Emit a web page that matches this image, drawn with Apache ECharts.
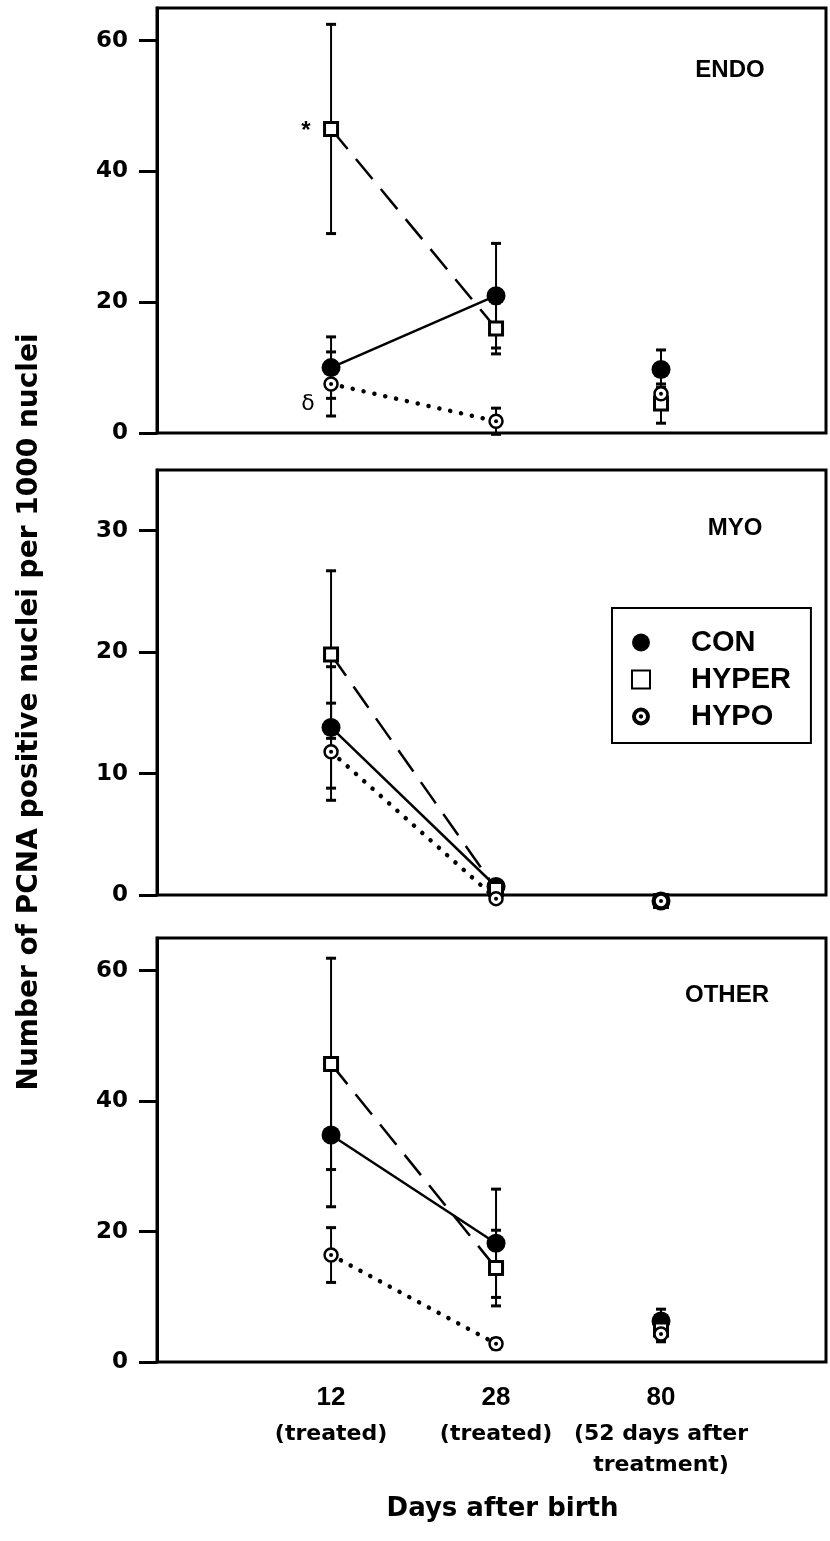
<!DOCTYPE html>
<html>
<head>
<meta charset="utf-8">
<script src="https://cdn.jsdelivr.net/npm/echarts@6/dist/echarts.min.js"></script>
<style>
html, body { margin: 0; padding: 0; background: #fff; }
#chart { width: 830px; height: 1541px; }
</style>
</head>
<body>
<div id="chart"></div>
<script>
// x categories (days after birth)
var days = ['12', '28', '80'];
var dayNotes = ['(treated)', '(treated)', '(52 days after\ntreatment)'];
var panelNames = ['ENDO', 'MYO', 'OTHER'];
var yMax = [65, 35, 65];
var yTicks = [[0, 20, 40, 60], [0, 10, 20, 30], [0, 20, 40, 60]];

// ENDO
var conEndo = [10, 21, 9.7];
var conEndoSd = [4.7, 8, 3];
var hyperEndo = [46.5, 16, 4.5];
var hyperEndoSd = [16, 3.9, 3];
var hypoEndo = [7.5, 1.8, 6];
var hypoEndoSd = [4.9, 2, 1];

// MYO
var conMyo = [13.8, 0.7, -0.5];
var conMyoSd = [5, 0.3, 0];
var hyperMyo = [19.8, 0.5, -0.5];
var hyperMyoSd = [6.9, 0.3, 0];
var hypoMyo = [11.8, -0.3, -0.5];
var hypoMyoSd = [4, 0.3, 0];

// OTHER
var conOther = [34.8, 18.2, 6.3];
var conOtherSd = [11, 8.3, 1.8];
var hyperOther = [45.7, 14.4, 5];
var hyperOtherSd = [16.2, 5.8, 1.5];
var hypoOther = [16.4, 2.8, 4.3];
var hypoOtherSd = [4.2, 0.8, 1.2];

var panelData = [
    { con: conEndo, conSd: conEndoSd, hyper: hyperEndo, hyperSd: hyperEndoSd, hypo: hypoEndo, hypoSd: hypoEndoSd },
    { con: conMyo, conSd: conMyoSd, hyper: hyperMyo, hyperSd: hyperMyoSd, hypo: hypoMyo, hypoSd: hypoMyoSd },
    { con: conOther, conSd: conOtherSd, hyper: hyperOther, hyperSd: hyperOtherSd, hypo: hypoOther, hypoSd: hypoOtherSd }
];

var FONT = 'Liberation Sans';
var WIDE = 'DejaVu Sans';
var ringDot = 'path://M50 0 A50 50 0 1 1 50 100 A50 50 0 1 1 50 0 Z M50 22 A28 28 0 1 0 50 78 A28 28 0 1 0 50 22 Z M50 38 A12 12 0 1 1 50 62 A12 12 0 1 1 50 38 Z';

var tops = [8, 470, 938];
var heights = [425, 425, 424];

var grid = [], xAxis = [], yAxis = [], series = [];

function pts(arr, from, to) {
    var out = [];
    for (var i = from; i <= to; i++) out.push([i, arr[i]]);
    return out;
}

function errData(vals, sds) {
    var out = [];
    for (var i = 0; i < vals.length; i++) {
        if (sds[i] > 0) out.push([i, vals[i] - sds[i], vals[i] + sds[i]]);
    }
    return out;
}

for (var p = 0; p < 3; p++) {
    var d = panelData[p];
    grid.push({
        left: 157, top: tops[p], width: 669, height: heights[p],
        show: true, borderColor: '#000', borderWidth: 3, backgroundColor: 'transparent'
    });
    var last = p === 2;
    xAxis.push({
        type: 'value', gridIndex: p, min: -1.055, max: 3.0,
        axisLine: { show: false, onZero: false },
        axisTick: { show: false },
        splitLine: { show: false },
        axisLabel: {
            show: last,
            customValues: [0, 1, 2],
            margin: 15,
            formatter: function (v) {
                var i = Math.round(v);
                var note = dayNotes[i].split('\n').map(function (s) { return '{b|' + s + '}'; }).join('\n');
                return '{a|' + days[i] + '}\n' + note;
            },
            rich: {
                a: { fontFamily: FONT, fontWeight: 'bold', fontSize: 26, lineHeight: 42, color: '#000' },
                b: { fontFamily: WIDE, fontWeight: 'bold', fontSize: 22, lineHeight: 31, color: '#000' }
            }
        },
        name: last ? 'Days after birth' : '',
        nameLocation: 'middle',
        nameGap: 134,
        nameTextStyle: { fontFamily: WIDE, fontWeight: 'bold', fontSize: 26, color: '#000', padding: [0, 0, 0, 22] }
    });
    yAxis.push({
        type: 'value', gridIndex: p, min: 0, max: yMax[p],
        axisLine: { show: true, onZero: false, lineStyle: { color: '#000', width: 3 } },
        axisTick: { show: true, customValues: yTicks[p], length: 18, lineStyle: { color: '#000', width: 3 } },
        splitLine: { show: false },
        axisLabel: {
            customValues: yTicks[p], margin: 29,
            fontFamily: WIDE, fontWeight: 'bold', fontSize: 23, color: '#000'
        }
    });

    // error bars
    var errs = errData(d.con, d.conSd).concat(errData(d.hyper, d.hyperSd), errData(d.hypo, d.hypoSd));
    series.push({
        type: 'custom', xAxisIndex: p, yAxisIndex: p, z: 1, clip: false,
        data: errs,
        encode: { x: 0, y: [1, 2] },
        renderItem: function (params, api) {
            var lo = api.coord([api.value(0), api.value(1)]);
            var hi = api.coord([api.value(0), api.value(2)]);
            var w = 5;
            return {
                type: 'group',
                children: [
                    { type: 'line', shape: { x1: lo[0], y1: lo[1], x2: hi[0], y2: hi[1] }, style: { stroke: '#000', lineWidth: 2 } },
                    { type: 'line', shape: { x1: lo[0] - w, y1: lo[1], x2: lo[0] + w, y2: lo[1] }, style: { stroke: '#000', lineWidth: 3 } },
                    { type: 'line', shape: { x1: hi[0] - w, y1: hi[1], x2: hi[0] + w, y2: hi[1] }, style: { stroke: '#000', lineWidth: 3 } }
                ]
            };
        }
    });

    var groups = [
        { name: 'CON', vals: d.con, symbol: 'circle', size: 19,
          item: { color: '#000', opacity: 1 }, line: { color: '#000', width: 2.5, type: 'solid' } },
        { name: 'HYPER', vals: d.hyper, symbol: 'rect', size: 13,
          item: { color: '#fff', borderColor: '#000', borderWidth: 3, opacity: 1 }, line: { color: '#000', width: 2.5, type: [26, 13] } },
        { name: 'HYPO', vals: d.hypo, symbol: 'circle', size: 13,
          item: { color: '#fff', borderColor: '#000', borderWidth: 2.5, opacity: 1 }, line: { color: '#000', width: 4.5, type: [0.1, 11], cap: 'round' } }
    ];
    groups.forEach(function (g) {
        series.push({
            name: g.name, type: 'line', xAxisIndex: p, yAxisIndex: p, z: 3, clip: false,
            data: pts(g.vals, 0, 1),
            symbol: g.symbol, symbolSize: g.size,
            itemStyle: g.item, lineStyle: g.line
        });
        series.push({
            name: g.name, type: 'scatter', xAxisIndex: p, yAxisIndex: p, z: 3, clip: false,
            data: pts(g.vals, 2, 2),
            symbol: g.symbol, symbolSize: g.size,
            itemStyle: g.item
        });
    });
    // centre dot of HYPO marker
    series.push({
        name: 'HYPO', type: 'scatter', xAxisIndex: p, yAxisIndex: p, z: 4, clip: false,
        data: pts(d.hypo, 0, 2), symbol: 'circle', symbolSize: 4,
        itemStyle: { color: '#000', opacity: 1 }
    });
}

var myChart = echarts.init(document.getElementById('chart'));
myChart.setOption({
    backgroundColor: '#fff',
    animation: false,
    grid: grid,
    xAxis: xAxis,
    yAxis: yAxis,
    legend: {
        left: 612, top: 608,
        orient: 'vertical',
        padding: [19, 20, 11, 19],
        itemGap: 6,
        itemWidth: 18, itemHeight: 18,
        borderColor: '#000', borderWidth: 2,
        backgroundColor: '#fff',
        selectedMode: false,
        textStyle: { fontFamily: FONT, fontWeight: 'bold', fontSize: 29, color: '#000', lineHeight: 31, padding: [0, 0, 0, 36] },
        data: [
            { name: 'CON', icon: 'circle' },
            { name: 'HYPER', icon: 'rect' },
            { name: 'HYPO', icon: ringDot, itemStyle: { color: '#000', borderWidth: 0 } }
        ]
    },
    graphic: [
        { type: 'text', x: 730, y: 70, style: { text: panelNames[0], fontFamily: FONT, fontWeight: 'bold', fontSize: 24, fill: '#000', textAlign: 'center', textVerticalAlign: 'middle' } },
        { type: 'text', x: 735, y: 528, style: { text: panelNames[1], fontFamily: FONT, fontWeight: 'bold', fontSize: 24, fill: '#000', textAlign: 'center', textVerticalAlign: 'middle' } },
        { type: 'text', x: 727, y: 995, style: { text: panelNames[2], fontFamily: FONT, fontWeight: 'bold', fontSize: 24, fill: '#000', textAlign: 'center', textVerticalAlign: 'middle' } },
        { type: 'text', x: 306, y: 131, style: { text: '*', fontFamily: FONT, fontWeight: 'bold', fontSize: 24, fill: '#000', textAlign: 'center', textVerticalAlign: 'middle' } },
        { type: 'text', x: 308, y: 404, style: { text: 'δ', fontFamily: 'DejaVu Sans', fontSize: 22, fill: '#000', textAlign: 'center', textVerticalAlign: 'middle' } },
        { type: 'text', x: 30, y: 712, rotation: Math.PI / 2,
          style: { text: 'Number of PCNA positive nuclei per 1000 nuclei', fontFamily: WIDE, fontWeight: 'bold', fontSize: 28, fill: '#000', textAlign: 'center', textVerticalAlign: 'middle' } }
    ],
    series: series
});
</script>
</body>
</html>
